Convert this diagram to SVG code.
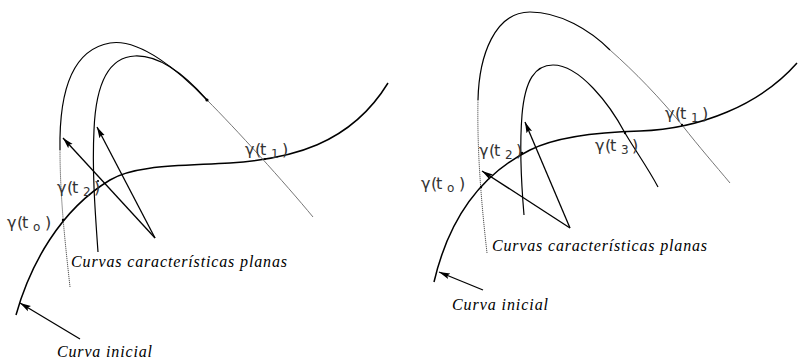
<svg xmlns="http://www.w3.org/2000/svg" width="798" height="362" viewBox="0 0 798 362">
<defs>
<marker id="ah" markerWidth="12" markerHeight="8" refX="11" refY="4" orient="auto" markerUnits="userSpaceOnUse">
<path d="M0,1 L11,4 L0,7 L2,4 Z" fill="#000"/>
</marker>
<style>
.init{fill:none;stroke:#000;stroke-width:1.5}
.char{fill:none;stroke:#000;stroke-width:1.2}
.thin{fill:none;stroke:#666;stroke-width:0.9}
.dot{fill:none;stroke:#555;stroke-width:1;stroke-dasharray:1.2 0.8}
.arr{fill:none;stroke:#000;stroke-width:1.3;marker-end:url(#ah)}
.pt{fill:#000}
.lab{font-family:"DejaVu Sans","Liberation Sans",sans-serif;font-size:16px;fill:#333}
.sub{font-size:12px}
.it{font-family:"Liberation Serif",serif;font-style:italic;font-size:16px;fill:#000}
</style>
</defs>
<rect width="798" height="362" fill="#fff"/>

<g id="left-panel">
<g id="left-initial-curve">
<path class="init" d="M16,315 C30,265 60,210 110,180 C135,165 180,166 230,163 C290,159 350,145 388,83"/>
</g>
<g id="left-char-outer">
<path class="dot" d="M70,287 C66,250 60,200 60,150"/>
<path class="char" d="M60,150 C59,95 70,50 110,43 C140,38 180,72 207,100"/>
<path class="thin" d="M207,100 C235,128 285,183 313,217"/>
</g>
<g id="left-char-inner">
<path class="char" d="M98,252 C95,210 92,170 94,130 C96,80 110,57 135,56 C160,55 185,75 207,100"/>
<circle class="pt" cx="207" cy="100" r="1.6"/>
</g>
<g id="left-points">
<circle class="pt" cx="63" cy="220" r="1.2"/>
<circle class="pt" cx="98" cy="181" r="1.1"/>
<circle class="pt" cx="265" cy="159" r="1.1"/>
</g>
<g id="left-labels">
<text class="lab" y="155"><tspan x="245 255 260">γ(t</tspan><tspan class="sub" x="271" dy="3">1</tspan><tspan x="282" dy="-3">)</tspan></text>
<text class="lab" y="193"><tspan x="57 67 72">γ(t</tspan><tspan class="sub" x="83" dy="3">2</tspan><tspan x="94" dy="-3">)</tspan></text>
<text class="lab" y="228"><tspan x="7 17 22">γ(t</tspan><tspan class="sub" x="33" dy="3">o</tspan><tspan x="45" dy="-3">)</tspan></text>
<text class="it" x="71" y="267" textLength="216" lengthAdjust="spacing">Curvas características planas</text>
<text class="it" x="57" y="357" textLength="95" lengthAdjust="spacing">Curva inicial</text>
</g>
</g>

<g id="right-panel">
<g id="right-initial-curve">
<path class="init" d="M434,282 C445,235 470,180 530,150 C556,137 600,132 640,131 C700,129 760,105 797,63"/>
</g>
<g id="right-char-outer">
<path class="dot" d="M487,253 C481,200 477,150 478,100"/>
<path class="char" d="M478,100 C479,55 495,12 530,12 C560,12 590,30 610,50"/>
<path class="thin" d="M610,50 C635,72 660,98 682,125 C700,148 715,165 730,183"/>
</g>
<g id="right-char-inner">
<path class="char" d="M524,215 C521,180 520,140 522,115 C525,80 535,65 553,65 C580,65 610,105 625,133 C635,150 648,168 658,187"/>
</g>
<g id="right-points">
<circle class="pt" cx="481" cy="187" r="1.2"/>
<circle class="pt" cx="522" cy="153" r="1.2"/>
<circle class="pt" cx="625" cy="133" r="1.2"/>
<circle class="pt" cx="682" cy="125" r="1.2"/>
</g>
<g id="right-labels">
<text class="lab" y="119"><tspan x="665 675 680">γ(t</tspan><tspan class="sub" x="691" dy="3">1</tspan><tspan x="702" dy="-3">)</tspan></text>
<text class="lab" y="151"><tspan x="595 605 610">γ(t</tspan><tspan class="sub" x="621" dy="3">3</tspan><tspan x="632" dy="-3">)</tspan></text>
<text class="lab" y="156"><tspan x="479 489 494">γ(t</tspan><tspan class="sub" x="505" dy="3">2</tspan><tspan x="516" dy="-3">)</tspan></text>
<text class="lab" y="189"><tspan x="421 431 436">γ(t</tspan><tspan class="sub" x="447" dy="3">o</tspan><tspan x="459" dy="-3">)</tspan></text>
<text class="it" x="492" y="251" textLength="215" lengthAdjust="spacing">Curvas características planas</text>
<text class="it" x="452" y="310" textLength="96" lengthAdjust="spacing">Curva inicial</text>
</g>
</g>

<g id="connectors">
<line class="arr" x1="155" y1="238" x2="63" y2="138"/>
<line class="arr" x1="155" y1="238" x2="97" y2="127"/>
<line class="arr" x1="80" y1="339" x2="20" y2="303"/>
<line class="arr" x1="570" y1="228" x2="482" y2="171"/>
<line class="arr" x1="570" y1="228" x2="525" y2="122"/>
<line class="arr" x1="483" y1="290" x2="439" y2="272"/>
</g>
</svg>
